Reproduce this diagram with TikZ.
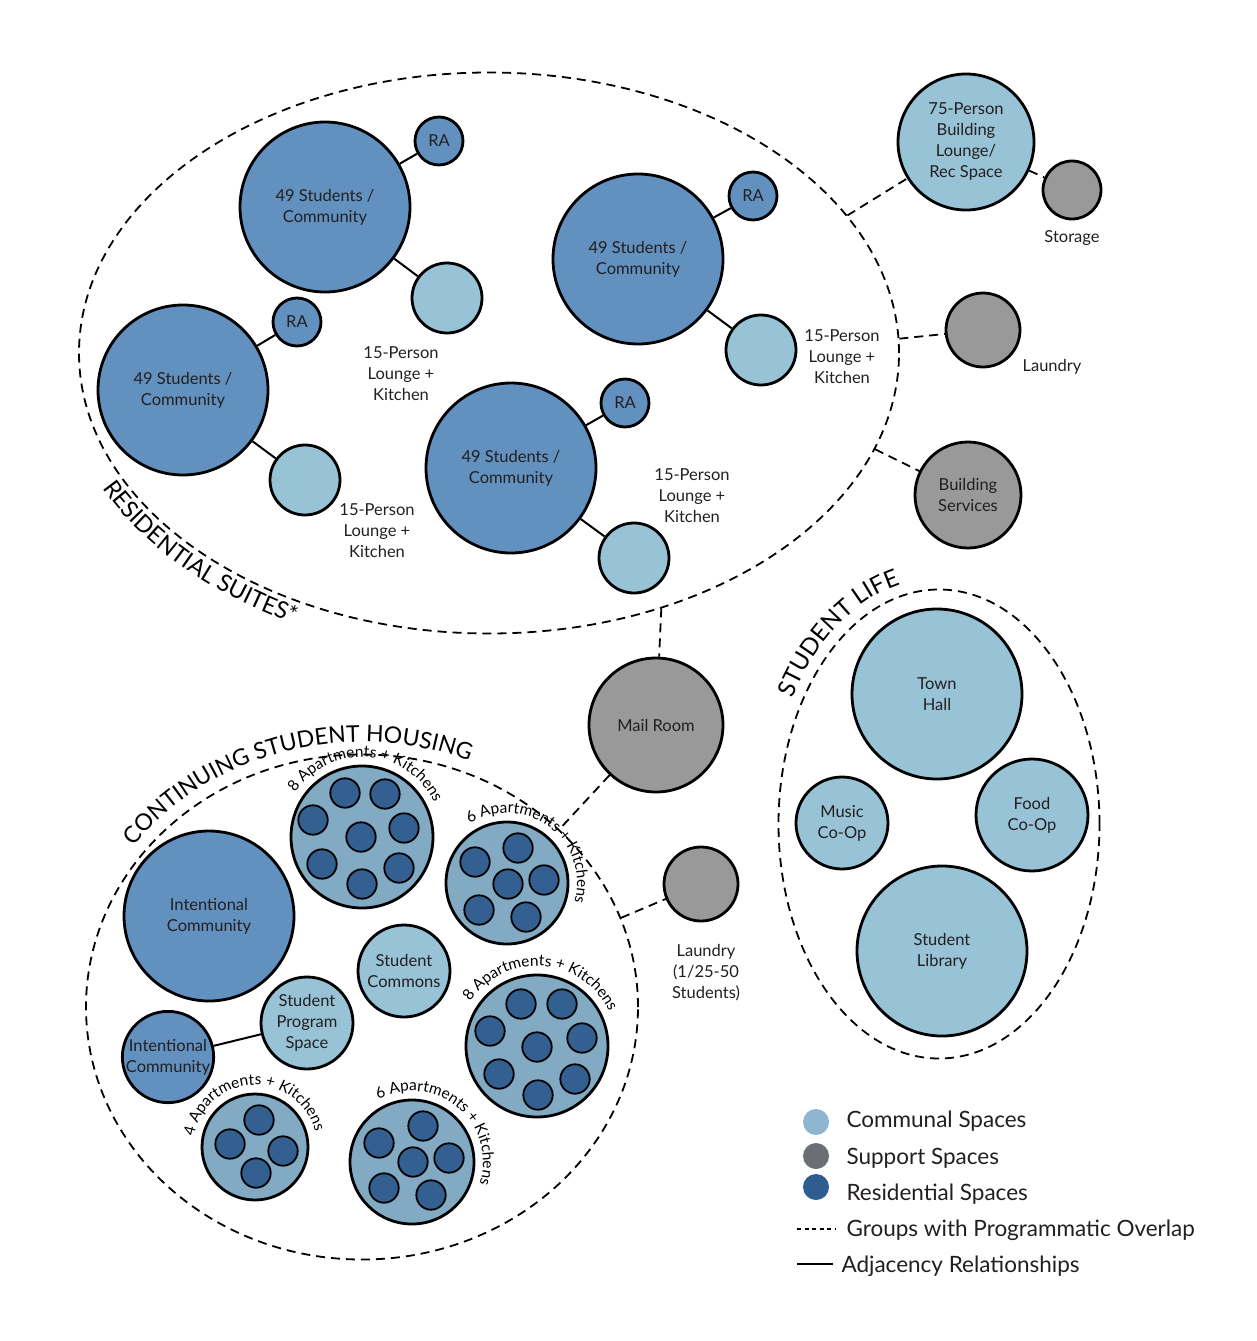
\documentclass[tikz,border=0pt]{standalone}
\usepackage{fontspec}
\setmainfont{Lato}
\usetikzlibrary{shapes.geometric, decorations.text}

\definecolor{txt}{RGB}{35,31,32}
\definecolor{resblue}{RGB}{98,145,192}
\definecolor{commblue}{RGB}{152,194,214}
\definecolor{suppgrey}{RGB}{153,153,153}
\definecolor{aptblue}{RGB}{130,171,195}
\definecolor{aptdark}{RGB}{52,95,145}
\definecolor{keycomm}{RGB}{143,182,209}
\definecolor{keysupp}{RGB}{107,111,115}
\definecolor{keyres}{RGB}{47,93,143}

\newcommand{\labfont}{\fontsize{16.5}{21}\selectfont}
\newcommand{\aptfont}{\fontsize{15.5}{15.5}\selectfont}
\newcommand{\grpfont}{\fontsize{23}{23}\selectfont}
\newcommand{\legfont}{\fontsize{22.5}{26}\selectfont}

\begin{document}
\begin{tikzpicture}[x=1pt, y=-1pt,
  bubble/.style={circle, draw=black, line width=2.8pt, inner sep=0pt, align=center, text=txt, font=\labfont},
  res/.style={bubble, fill=resblue},
  comm/.style={bubble, fill=commblue},
  supp/.style={bubble, fill=suppgrey},
  apts/.style={bubble, fill=aptblue},
  aptdot/.style={draw=black, line width=1.8pt, fill=aptdark},
  group/.style={ellipse, draw=black, line width=1.8pt, dash pattern=on 9pt off 6pt, inner sep=0pt},
  overlap/.style={draw=black, line width=1.8pt, dash pattern=on 9pt off 6pt},
  link/.style={draw=black, line width=2pt},
  note/.style={align=center, text=txt, font=\labfont},
  keydot/.style={circle, inner sep=0pt, minimum size=26pt},
  keytext/.style={anchor=west, text=txt, font=\legfont},
]
\useasboundingbox (0,0) rectangle (1256,1341);

% Residential suites
\node[group, minimum width=820pt, minimum height=561pt] (resSuites) at (489,353) {};
\path[decorate, decoration={text along path, text align=center,
  text={|\fontsize{23.5}{23.5}\selectfont|RESIDENTIAL SUITES*}}]
  (489,353) ++(176:432 and 303) arc[start angle=176, end angle=100, x radius=432, y radius=303];

\node[res, minimum size=170pt] (suiteA) at (325,207) {49 Students /\\Community};
\node[res, minimum size=48pt] (raA) at (439,141) {RA};
\node[comm, minimum size=70pt] (loungeA) at (447,298) {};
\node[note] (loungeAtext) at (401,374) {15-Person\\Lounge +\\Kitchen};
\draw[link] (suiteA) -- (raA);
\draw[link] (suiteA) -- (loungeA);

\node[res, minimum size=170pt] (suiteB) at (638,259) {49 Students /\\Community};
\node[res, minimum size=48pt] (raB) at (753,196) {RA};
\node[comm, minimum size=70pt] (loungeB) at (761,350) {};
\node[note] (loungeBtext) at (842,357) {15-Person\\Lounge +\\Kitchen};
\draw[link] (suiteB) -- (raB);
\draw[link] (suiteB) -- (loungeB);

\node[res, minimum size=170pt] (suiteC) at (183,390) {49 Students /\\Community};
\node[res, minimum size=48pt] (raC) at (297,322) {RA};
\node[comm, minimum size=70pt] (loungeC) at (305,480) {};
\node[note] (loungeCtext) at (377,531) {15-Person\\Lounge +\\Kitchen};
\draw[link] (suiteC) -- (raC);
\draw[link] (suiteC) -- (loungeC);

\node[res, minimum size=170pt] (suiteD) at (511,468) {49 Students /\\Community};
\node[res, minimum size=48pt] (raD) at (625,403) {RA};
\node[comm, minimum size=70pt] (loungeD) at (634,558) {};
\node[note] (loungeDtext) at (692,496) {15-Person\\Lounge +\\Kitchen};
\draw[link] (suiteD) -- (raD);
\draw[link] (suiteD) -- (loungeD);

% support spaces round the suites
\node[comm, minimum size=136pt] (bldgLounge) at (966,142) {75-Person\\Building\\Lounge/\\Rec Space};
\node[supp, minimum size=58pt] (storage) at (1072,190) {};
\node[note] (storageText) at (1072,238) {Storage};
\node[supp, minimum size=74pt] (laundryA) at (983,330) {};
\node[note] (laundryAtext) at (1052,367) {Laundry};
\node[supp, minimum size=106pt] (bldgServices) at (968,495) {Building\\Services};
\node[supp, minimum size=134pt] (mailRoom) at (656,725) {Mail Room};

\draw[overlap] (resSuites.21.5) -- (bldgLounge);
\draw[overlap] (bldgLounge) -- (storage);
\draw[overlap] (resSuites.2.4) -- (laundryA);
\draw[overlap] (resSuites.-14) -- (bldgServices);
\draw[overlap] (resSuites.-56.6) -- (mailRoom);

% Student life
\node[group, minimum width=321pt, minimum height=469pt] (studentLife) at (939,824) {};
\path[decorate, decoration={text along path, text align=center,
  text={|\fontsize{24}{24}\selectfont|STUDENT LIFE}}]
  (939,824) ++(-184:171 and 246) arc[start angle=-184, end angle=-56, x radius=171, y radius=246];
\node[comm, minimum size=170pt] (townHall) at (937,694) {Town\\Hall};
\node[comm, minimum size=92pt] (musicCoop) at (842,823) {Music\\Co-Op};
\node[comm, minimum size=112pt] (foodCoop) at (1032,815) {Food\\Co-Op};
\node[comm, minimum size=170pt] (library) at (942,951) {Student\\Library};

% Continuing student housing
\node[group, minimum width=552pt, minimum height=505pt] (contHousing) at (362,1007) {};
\path[decorate, decoration={text along path, text align=center,
  text={|\grpfont|CONTINUING STUDENT HOUSING}}]
  (362,1007) ++(-176:288 and 265) arc[start angle=-176, end angle=-36, x radius=288, y radius=265];
\draw[overlap] (mailRoom) -- (contHousing.42.3);
\node[supp, minimum size=74pt] (laundryB) at (701,884) {};
\node[note] (laundryBtext) at (706,973) {Laundry\\(1/25-50\\Students)};
\draw[overlap] (contHousing.19.2) -- (laundryB);

\node[res, minimum size=170pt] (intentA) at (209,916) {Intentional\\Community};
\node[comm, minimum size=92pt] (commons) at (404,971) {Student\\Commons};
\node[comm, minimum size=92pt] (program) at (307,1023) {Student\\Program\\Space};
\node[res, minimum size=90pt] (intentB) at (168,1057) {Intentional\\Community};
\draw[link] (intentB) -- (program);

% apartment clusters
\node[apts, minimum size=142pt] (aptsA) at (362,837) {};
\foreach \x/\y in {345/793, 385/794, 313/820, 404/828, 361/837, 322/864, 399/868, 362/884}
  \filldraw[aptdot] (\x,\y) circle[radius=14.7pt];
\path[decorate, decoration={text along path, text align=center, text={|\aptfont|8 Apartments + Kitchens}}]
  (aptsA.center) ++(-186:80) arc[start angle=-186, end angle=14, radius=80];

\node[apts, minimum size=122pt] (aptsB) at (507,883) {};
\foreach \x/\y in {518/848, 475/862, 508/884, 544/880, 479/910, 526/917}
  \filldraw[aptdot] (\x,\y) circle[radius=14.7pt];
\path[decorate, decoration={text along path, text align=center, text={|\aptfont|6 Apartments + Kitchens}}]
  (aptsB.center) ++(-153:70) arc[start angle=-153, end angle=47, radius=70];

\node[apts, minimum size=142pt] (aptsC) at (537,1046) {};
\foreach \x/\y in {521/1004, 562/1004, 490/1031, 582/1038, 537/1047, 499/1074, 575/1079, 538/1095}
  \filldraw[aptdot] (\x,\y) circle[radius=14.7pt];
\path[decorate, decoration={text along path, text align=center, text={|\aptfont|8 Apartments + Kitchens}}]
  (aptsC.center) ++(-186:80) arc[start angle=-186, end angle=14, radius=80];

\node[apts, minimum size=106pt] (aptsD) at (255,1147) {};
\foreach \x/\y in {259/1120, 230/1144, 283/1151, 256/1173}
  \filldraw[aptdot] (\x,\y) circle[radius=14.7pt];
\path[decorate, decoration={text along path, text align=center, text={|\aptfont|4 Apartments + Kitchens}}]
  (aptsD.center) ++(-192:62) arc[start angle=-192, end angle=8, radius=62];

\node[apts, minimum size=124pt] (aptsE) at (412,1162) {};
\foreach \x/\y in {423/1126, 379/1143, 413/1162, 449/1158, 384/1188, 431/1195}
  \filldraw[aptdot] (\x,\y) circle[radius=14.7pt];
\path[decorate, decoration={text along path, text align=center, text={|\aptfont|6 Apartments + Kitchens}}]
  (aptsE.center) ++(-150:71) arc[start angle=-150, end angle=50, radius=71];

% legend
\node[keydot, fill=keycomm] (keyComm) at (816,1122) {};
\node[keytext] (keyCommText) at (843,1121) {Communal Spaces};
\node[keydot, fill=keysupp] (keySupp) at (816,1156) {};
\node[keytext] (keySuppText) at (843,1158) {Support Spaces};
\node[keydot, fill=keyres] (keyRes) at (816,1187) {};
\node[keytext] (keyResText) at (843,1194) {Residential Spaces};
\coordinate (keyDashA) at (797,1229);
\coordinate (keyDashB) at (835,1229);
\draw[line width=1.2pt, dash pattern=on 4pt off 3.5pt] (keyDashA) -- (keyDashB);
\node[keytext] (keyDashText) at (843,1230) {Groups with Programmatic Overlap};
\coordinate (keyLineA) at (797,1264);
\coordinate (keyLineB) at (833,1264);
\draw[line width=1.4pt] (keyLineA) -- (keyLineB);
\node[keytext] (keyLineText) at (838,1266) {Adjacency Relationships};

\end{tikzpicture}
\end{document}
